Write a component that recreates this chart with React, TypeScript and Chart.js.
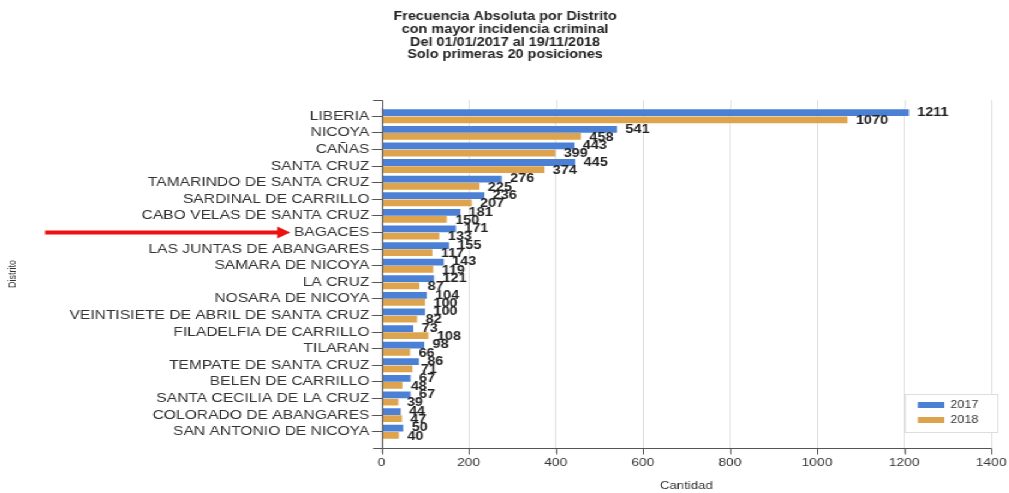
import React, { useEffect, useRef } from "react";
import { Chart, registerables } from "chart.js";

Chart.register(...registerables);

const categories = [
  "LIBERIA",
  "NICOYA",
  "CAÑAS",
  "SANTA CRUZ",
  "TAMARINDO DE SANTA CRUZ",
  "SARDINAL DE CARRILLO",
  "CABO VELAS DE SANTA CRUZ",
  "BAGACES",
  "LAS JUNTAS DE ABANGARES",
  "SAMARA DE NICOYA",
  "LA CRUZ",
  "NOSARA DE NICOYA",
  "VEINTISIETE DE ABRIL DE SANTA CRUZ",
  "FILADELFIA DE CARRILLO",
  "TILARAN",
  "TEMPATE DE SANTA CRUZ",
  "BELEN DE CARRILLO",
  "SANTA CECILIA DE LA CRUZ",
  "COLORADO DE ABANGARES",
  "SAN ANTONIO DE NICOYA",
];

const values2017 = [1211, 541, 443, 445, 276, 236, 181, 171, 155, 143, 121, 104, 100, 73, 98, 86, 67, 67, 44, 50];
const values2018 = [1070, 458, 399, 374, 225, 207, 150, 133, 117, 119, 87, 100, 82, 108, 66, 71, 48, 39, 47, 40];

const seriesLabels = ["2017", "2018"];
const seriesColors = ["#4c80d4", "#dea44d"];

const titleLines = [
  "Frecuencia Absoluta por Distrito",
  "con mayor incidencia criminal",
  "Del 01/01/2017 al 19/11/2018",
  "Solo primeras 20 posiciones",
];

const highlighted = "BAGACES";

// The reference picture is stretched horizontally; render narrower and stretch with CSS.
const SX = 1.2;
const W = 1009;
const H = 493;

const FONT = "'Liberation Sans', Arial, sans-serif";
const LABEL_SIZE = 13;
const EXT = 8;
const YTICK = 8;
const YPAD = 2;

const axisPlugin = {
  id: "axisExt",
  beforeDatasetsDraw(chart: any) {
    const { ctx, chartArea: a, scales } = chart;
    const x = scales.x;
    ctx.save();
    ctx.strokeStyle = "#dddddd";
    ctx.lineWidth = 1;
    x.ticks.forEach((t: any) => {
      const px = Math.round(x.getPixelForValue(t.value)) + 0.5;
      ctx.beginPath();
      ctx.moveTo(px, a.top - EXT);
      ctx.lineTo(px, a.top);
      ctx.stroke();
    });
    ctx.restore();
  },
  afterDatasetsDraw(chart: any) {
    const { ctx, chartArea: a, scales } = chart;
    const x = scales.x;
    ctx.save();
    ctx.strokeStyle = "#555555";
    ctx.lineWidth = 1;
    const left = Math.round(a.left) + 0.5;
    const bot = Math.round(a.bottom + EXT) + 0.5;
    const top = Math.round(a.top - EXT) + 0.5;
    ctx.beginPath();
    ctx.moveTo(left, top);
    ctx.lineTo(left, bot);
    ctx.moveTo(left, bot);
    ctx.lineTo(a.right, bot);
    ctx.moveTo(left - YTICK, top);
    ctx.lineTo(left, top);
    ctx.moveTo(left - YTICK, bot);
    ctx.lineTo(left, bot);
    x.ticks.forEach((t: any) => {
      const px = Math.round(x.getPixelForValue(t.value)) + 0.5;
      ctx.moveTo(px, bot);
      ctx.lineTo(px, bot + 6);
    });
    ctx.stroke();

    // value labels
    ctx.font = `bold 12px ${FONT}`;
    ctx.fillStyle = "#222222";
    ctx.textAlign = "left";
    ctx.textBaseline = "middle";
    chart.data.datasets.forEach((ds: any, i: number) => {
      const meta = chart.getDatasetMeta(i);
      meta.data.forEach((el: any, j: number) => {
        ctx.fillText(String(ds.data[j]), el.x + 7, el.y + i);
      });
    });
    ctx.restore();
  },
  afterDraw(chart: any) {
    const { ctx, chartArea: a, scales } = chart;
    const y = scales.y;
    // legend
    ctx.save();
    const bx = a.right - 72;
    const by = a.bottom - 46;
    const bw = 77;
    ctx.fillStyle = "#ffffff";
    ctx.fillRect(bx, by, bw, 38);
    ctx.strokeStyle = "#dddddd";
    ctx.lineWidth = 1;
    ctx.strokeRect(Math.round(bx) + 0.5, Math.round(by) + 0.5, bw, 38);
    ctx.font = `10.5px ${FONT}`;
    ctx.textBaseline = "middle";
    ctx.textAlign = "left";
    chart.data.datasets.forEach((ds: any, i: number) => {
      const cy = by + 11 + i * 15;
      ctx.fillStyle = ds.backgroundColor;
      ctx.fillRect(bx + 11, cy - 3, 22, 6);
      ctx.fillStyle = "#333333";
      ctx.fillText(ds.label, bx + 38, cy);
    });

    // red arrow annotation
    const idx = categories.indexOf(highlighted);
    if (idx >= 0) {
      const py = y.getPixelForValue(idx);
      ctx.font = `${LABEL_SIZE}px ${FONT}`;
      const w = ctx.measureText(highlighted).width;
      const tip = a.left - YTICK - YPAD - w - 3;
      ctx.strokeStyle = "#ee1111";
      ctx.fillStyle = "#ee1111";
      ctx.lineWidth = 4;
      ctx.beginPath();
      ctx.moveTo(37.5, py);
      ctx.lineTo(tip - 8, py);
      ctx.stroke();
      ctx.beginPath();
      ctx.moveTo(tip, py);
      ctx.lineTo(tip - 11, py - 6);
      ctx.lineTo(tip - 11, py + 6);
      ctx.closePath();
      ctx.fill();
    }
    ctx.restore();
  },
};

export default function App() {
  const ref = useRef<HTMLCanvasElement | null>(null);

  useEffect(() => {
    if (!ref.current) return;
    const chart = new Chart(ref.current, {
      type: "bar",
      data: {
        labels: categories,
        datasets: [
          {
            label: seriesLabels[0],
            data: values2017,
            backgroundColor: seriesColors[0],
            categoryPercentage: 0.86,
            barPercentage: 0.95,
          },
          {
            label: seriesLabels[1],
            data: values2018,
            backgroundColor: seriesColors[1],
            categoryPercentage: 0.86,
            barPercentage: 0.95,
          },
        ],
      },
      options: {
        indexAxis: "y",
        animation: false,
        responsive: true,
        maintainAspectRatio: false,
        layout: { padding: 0 },
        plugins: {
          legend: { display: false },
          tooltip: { enabled: false },
          title: {
            display: true,
            text: titleLines,
            color: "#222222",
            font: { family: FONT, size: 12, weight: "bold", lineHeight: 1.06 },
            padding: { top: 10.6, bottom: 46.5 },
          },
        },
        scales: {
          x: {
            type: "linear",
            min: 0,
            max: 1400,
            ticks: {
              stepSize: 200,
              color: "#333333",
              font: { family: FONT, size: 11.5 },
              padding: 3,
              callback: (v: any) => String(v),
            },
            grid: {
              color: "#dddddd",
              tickColor: "#dddddd",
              tickLength: 13,
            },
            border: { display: false },
            title: {
              display: true,
              text: "Cantidad",
              color: "#333333",
              font: { family: FONT, size: 11, lineHeight: 1.2 },
              padding: { top: 0, bottom: 0 },
            },
            afterFit: (s: any) => {
              s.height = 53;
            },
          },
          y: {
            type: "category",
            offset: true,
            ticks: {
              color: "#333333",
              font: { family: FONT, size: LABEL_SIZE },
              padding: YPAD,
              autoSkip: false,
            },
            grid: {
              offset: false,
              drawOnChartArea: false,
              drawTicks: true,
              tickLength: YTICK,
              tickColor: "#555555",
            },
            border: { display: false },
            title: {
              display: true,
              text: "Distrito",
              color: "#333333",
              font: { family: FONT, size: 9, lineHeight: 1.2 },
              padding: { top: 5, bottom: 4 },
            },
            afterFit: (s: any) => {
              s.width = 381 / SX;
            },
          },
        },
      },
      plugins: [axisPlugin],
    });
    return () => chart.destroy();
  }, []);

  return (
    <div
      style={{
        position: "absolute",
        left: 0,
        top: 0,
        width: W / SX,
        height: H,
        background: "#fff",
        transform: `scaleX(${SX})`,
        transformOrigin: "left top",
      }}
    >
      <canvas ref={ref} />
    </div>
  );
}
